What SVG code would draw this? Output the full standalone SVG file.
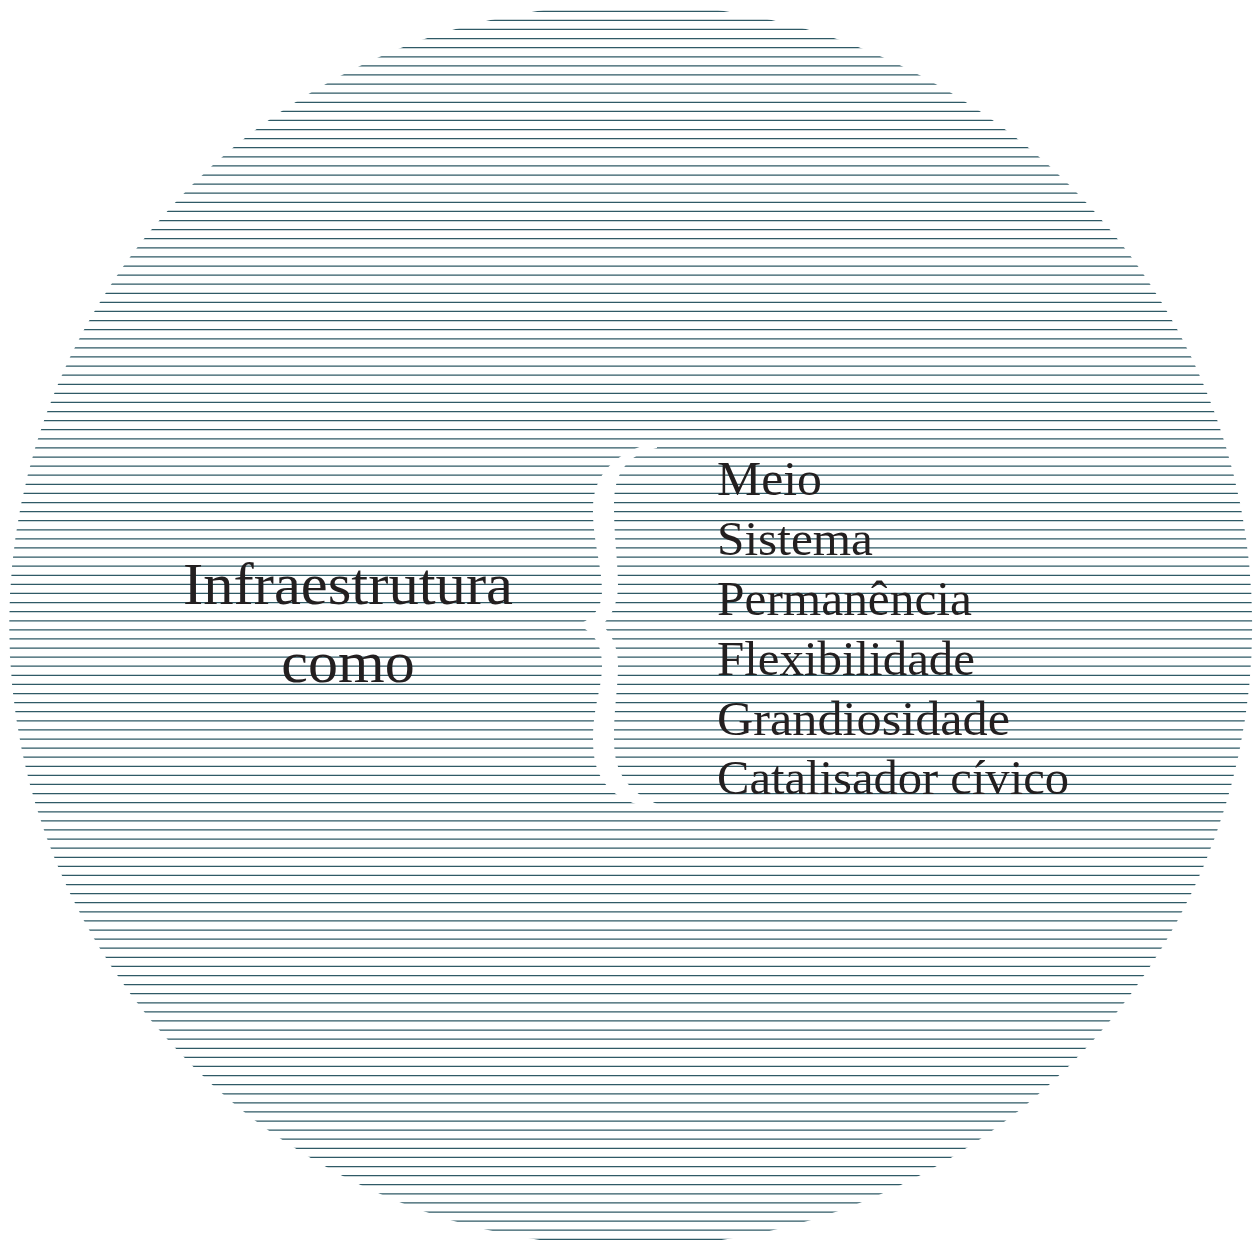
<svg xmlns="http://www.w3.org/2000/svg" width="1258" height="1248" viewBox="0 0 1258 1248">
<style>
.hatch{fill:none;stroke:#2f5a66;stroke-width:1.25}
.txt{font-family:"Liberation Serif","DejaVu Serif",serif;fill:#231f20}
.big{font-size:60px}
.item{font-size:49px}
</style>
<defs>
<clipPath id="disc"><circle cx="630.7" cy="625.3" r="621.5"/></clipPath>
</defs>
<rect width="1258" height="1248" fill="#ffffff"/>
<g id="disc-hatching" clip-path="url(#disc)">
<path class="hatch" d="M0 11.30H1258M0 20.40H1258M0 29.49H1258M0 38.59H1258M0 47.69H1258M0 56.78H1258M0 65.88H1258M0 74.97H1258M0 84.07H1258M0 93.17H1258M0 102.26H1258M0 111.36H1258M0 120.46H1258M0 129.55H1258M0 138.65H1258M0 147.74H1258M0 156.84H1258M0 165.94H1258M0 175.03H1258M0 184.13H1258M0 193.23H1258M0 202.32H1258M0 211.42H1258M0 220.51H1258M0 229.61H1258M0 238.71H1258M0 247.80H1258M0 256.90H1258M0 266.00H1258M0 275.09H1258M0 284.19H1258M0 293.29H1258M0 302.38H1258M0 311.48H1258M0 320.57H1258M0 329.67H1258M0 338.77H1258M0 347.86H1258M0 356.96H1258M0 366.06H1258M0 375.15H1258M0 384.25H1258M0 393.34H1258M0 402.44H1258M0 411.54H1258M0 420.63H1258M0 429.73H1258M0 438.83H1258M0 447.92H1258M0 457.02H1258M0 466.12H1258M0 475.21H1258M0 484.31H1258M0 493.40H1258M0 502.50H1258M0 511.60H1258M0 520.69H1258M0 529.79H1258M0 538.89H1258M0 547.98H1258M0 557.08H1258M0 566.17H1258M0 575.27H1258M0 584.37H1258M0 593.46H1258M0 602.56H1258M0 611.66H1258M0 620.75H1258M0 629.85H1258M0 638.94H1258M0 648.04H1258M0 657.14H1258M0 666.23H1258M0 675.33H1258M0 684.43H1258M0 693.52H1258M0 702.62H1258M0 711.72H1258M0 720.81H1258M0 729.91H1258M0 739.00H1258M0 748.10H1258M0 757.20H1258M0 766.29H1258M0 775.39H1258M0 784.49H1258M0 793.58H1258M0 802.68H1258M0 811.77H1258M0 820.87H1258M0 829.97H1258M0 839.06H1258M0 848.16H1258M0 857.26H1258M0 866.35H1258M0 875.45H1258M0 884.54H1258M0 893.64H1258M0 902.74H1258M0 911.83H1258M0 920.93H1258M0 930.03H1258M0 939.12H1258M0 948.22H1258M0 957.32H1258M0 966.41H1258M0 975.51H1258M0 984.60H1258M0 993.70H1258M0 1002.80H1258M0 1011.89H1258M0 1020.99H1258M0 1030.09H1258M0 1039.18H1258M0 1048.28H1258M0 1057.37H1258M0 1066.47H1258M0 1075.57H1258M0 1084.66H1258M0 1093.76H1258M0 1102.86H1258M0 1111.95H1258M0 1121.05H1258M0 1130.14H1258M0 1139.24H1258M0 1148.34H1258M0 1157.43H1258M0 1166.53H1258M0 1175.63H1258M0 1184.72H1258M0 1193.82H1258M0 1202.92H1258M0 1212.01H1258M0 1221.11H1258M0 1230.20H1258M0 1239.30H1258"/>
</g>
<g id="brace">
<path fill="#ffffff" d="M657 442 C620 450 595 470 593 505 C592 540 602 565 602 590 C602 610 592 618 578 625 C592 632 602 642 602 665 C602 690 593 705 593 740 C593 780 610 800 657 810 L657 804 C625 790 614 770 614 740 C614 705 618 690 618 665 C618 645 610 632 602 625 C610 618 618 605 618 585 C618 560 614 540 614 505 C614 475 625 455 657 448 Z"/>
</g>
<g id="subject">
<text class="txt big" x="348" y="603.5" text-anchor="middle" textLength="330" lengthAdjust="spacingAndGlyphs">Infraestrutura</text>
<text class="txt big" x="348" y="682" text-anchor="middle">como</text>
</g>
<g id="list">
<text class="txt item" x="717" y="494.5" textLength="105" lengthAdjust="spacingAndGlyphs">Meio</text>
<text class="txt item" x="717" y="554.5" textLength="156" lengthAdjust="spacingAndGlyphs">Sistema</text>
<text class="txt item" x="717" y="614.5" textLength="255" lengthAdjust="spacingAndGlyphs">Permanência</text>
<text class="txt item" x="717" y="674.5" textLength="258" lengthAdjust="spacingAndGlyphs">Flexibilidade</text>
<text class="txt item" x="717" y="734.5" textLength="293" lengthAdjust="spacingAndGlyphs">Grandiosidade</text>
<text class="txt item" x="717" y="794" textLength="352" lengthAdjust="spacingAndGlyphs">Catalisador cívico</text>
</g>
</svg>
